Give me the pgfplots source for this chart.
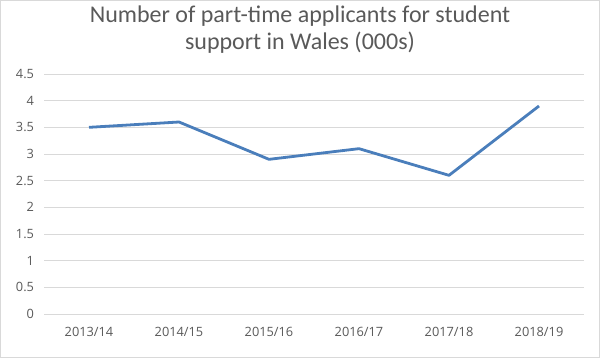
\documentclass[border=0pt]{standalone}
\usepackage{pgfplots}
\pgfplotsset{compat=1.18}
\usepackage{fontspec}
\setmainfont{Carlito}
\newfontfamily\tickfont{Open Sans}
\definecolor{txtgray}{HTML}{595959}
\definecolor{gridgray}{HTML}{D9D9D9}
\definecolor{lineblue}{HTML}{4A7EBB}
\begin{document}
\begin{tikzpicture}
\useasboundingbox (0,0) rectangle (600bp,358bp);
\draw[gridgray, line width=0.8bp] (0.4bp,0.4bp) rectangle (599.6bp,357.6bp);
\node[txtgray, font=\fontsize{24bp}{27bp}\selectfont, anchor=base] at (300bp,335bp)
  {Number of part-time applicants for student};
\node[txtgray, font=\fontsize{24bp}{27bp}\selectfont, anchor=base] at (300bp,308bp)
  {support in Wales (000s)};
\begin{axis}[
  at={(44bp,44bp)}, anchor=south west,
  scale only axis, width=540bp, height=240bp,
  xmin=-0.5, xmax=5.5, ymin=0, ymax=4.5,
  xtick={0,1,2,3,4,5},
  xticklabels={2013/14,2014/15,2015/16,2016/17,2017/18,2018/19},
  ytick={0,0.5,...,4.5},
  yticklabels={0,0.5,1,1.5,2,2.5,3,3.5,4,4.5},
  axis line style={draw=none},
  major tick length=0pt,
  ymajorgrids,
  grid style={gridgray, line width=0.9bp},
  tick label style={txtgray, font=\tickfont\fontsize{12.8bp}{15bp}\selectfont},
  /pgf/number format/assume math mode=true,
  yticklabel style={anchor=east, xshift=-6.5bp},
  xticklabel style={anchor=base, yshift=-23bp},
  clip=false,
]
\addplot[lineblue, line width=2.8bp, line join=round] coordinates {
  (0,3.5) (1,3.6) (2,2.9) (3,3.1) (4,2.6) (5,3.9)
};
\end{axis}
\end{tikzpicture}
\end{document}
